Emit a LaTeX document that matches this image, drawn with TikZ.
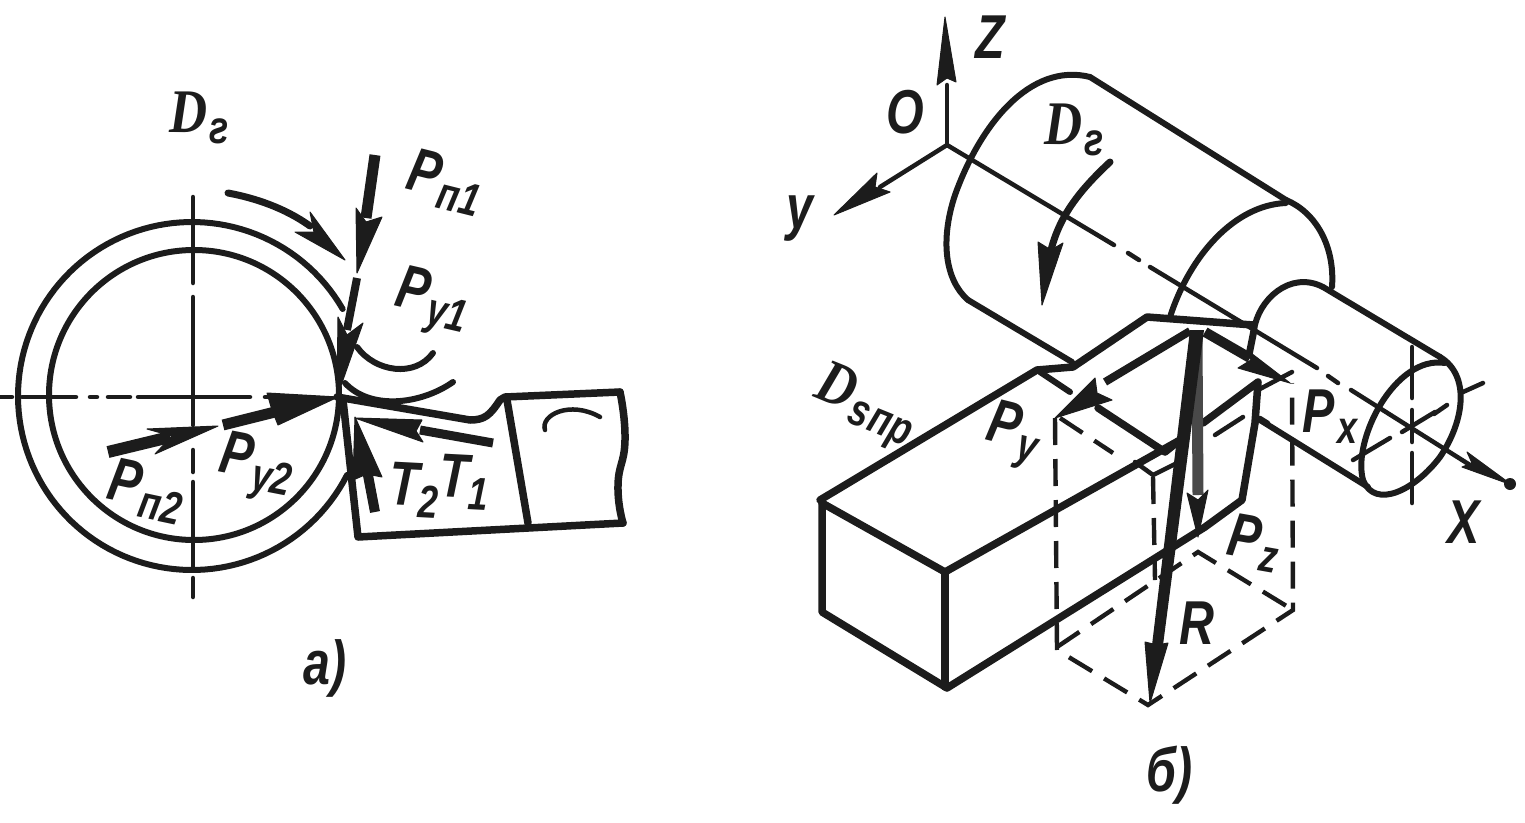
\documentclass[tikz,border=0pt]{standalone}
\usepackage{fontspec}
\setmainfont{Liberation Sans}
\newfontfamily\labf[FakeStretch=0.78]{Liberation Sans}
\newfontfamily\labd[FakeStretch=0.85]{Liberation Serif}
\newcommand{\lsub}[1]{\raisebox{-11pt}{\fontsize{46}{46}\selectfont\labf\bfseries\itshape #1}}
\newcommand{\labP}[1]{{\fontsize{62}{62}\selectfont\labf\bfseries\itshape P}\kern2pt\lsub{#1}}
\newcommand{\labD}[1]{{\fontsize{62}{62}\selectfont\labd\bfseries\itshape D}\kern2pt\lsub{#1}}
\definecolor{ink}{HTML}{1C1C1C}
\tikzset{
  edge/.style={draw=ink,line width=6pt,line cap=round,line join=round},
  heavy/.style={draw=ink,line width=7.5pt,line cap=round,line join=round},
  fine/.style={draw=ink,line width=4.5pt,line cap=round,line join=round},
  boxdash/.style={draw=ink,line width=4.4pt,dash pattern=on 27pt off 14pt},
  shaft/.style={draw=ink,line width=8pt,line cap=butt},
  tip/.style={fill=ink,draw=ink,line width=1pt,line join=round},
  lab/.style={text=ink,inner sep=0pt,font=\fontsize{62}{62}\selectfont\labf\bfseries\itshape}
}
\begin{document}
\begin{tikzpicture}[x=1pt,y=-1pt]
\useasboundingbox (0,0) rectangle (1525,822);
% ---------- figure a ----------
\draw[edge] plot[domain=27:330,samples=120] ({192+174*cos(\x)},{396+174*sin(\x)});
\draw[edge] (194,395) circle[radius=145pt];
% centre lines
\foreach \a/\b in {0/12,22/76,90/97,108/130,138/250,265/300}
  \draw[fine] (\a,397) -- (\b,397);
\foreach \a/\b in {197/283,297/425,450/472,482/570,578/597}
  \draw[fine] (193,\a) -- (193,\b);
% rotation arrow
\draw[edge,line width=7pt] (228,193) .. controls (255,198) and (285,208) .. (310,226);
\fill[tip] (345,260) -- (310,212) -- (314,232) -- (295,232) -- cycle;
% P_n1, P_y1
\draw[shaft,line width=11pt] (375,155) -- (366,218);
\fill[tip] (357,273) -- (356,208) -- (366,222) -- (382,217) -- cycle;
\draw[shaft,line width=8pt] (357,278) -- (347,330);
\fill[tip] (337,397) -- (338,317) -- (347,335) -- (363,323) -- cycle;
% P_n2, P_y2
\draw[shaft,line width=12pt] (108,452) -- (170,437);
\fill[tip] (218,426) -- (147,429) -- (172,436) -- (155,454) -- cycle;
\draw[shaft,line width=11pt] (223,425) -- (275,412);
\fill[tip] (338,397) -- (267,393) -- (272,410) -- (278,425) -- cycle;
% tool
\draw[heavy] (343,400) -- (358,537) -- (623,523);
\draw[heavy] plot[smooth,tension=0.9] coordinates {(623,523) (618,485) (625,440) (620,392)};
\draw[heavy] (620,392) -- (505,397) -- (500,400) .. controls (490,415) and (485,420) .. (470,420) -- (337,397);
\draw[heavy] (507,400) -- (528,523);
\draw[fine] (545,430) .. controls (540,415) and (570,400) .. (600,417);
% curves at the contact
\draw[edge] (357,347) .. controls (375,372) and (415,378) .. (433,353);
\draw[edge] (345,383) .. controls (370,410) and (420,405) .. (453,382);
% T1, T2
\draw[shaft,line width=9pt] (493,443) -- (420,430);
\fill[tip] (355,418) -- (422,420) -- (416,431) -- (423,442) -- cycle;
\draw[shaft,line width=10pt] (375,512) -- (367,470);
\fill[tip] (355,417) -- (353,480) -- (367,474) -- (382,477) -- cycle;
% labels a
\node[lab,rotate=-14] (pn1) at (445,182) {\labP{п1}};
\node[lab,rotate=-13] (py1) at (432,303) {\labP{y1}};
\node[lab,rotate=-12] (pn2) at (146,491) {\labP{п2}};
\node[lab,rotate=-11] (py2) at (256,468) {\labP{y2}};
\node[lab,rotate=-3] (t2) at (414,490) {T\lsub{2}};
\node[lab,rotate=-3] (t1) at (464,482) {T\lsub{1}};
\node[lab] (dg1) at (199,118) {\labD{г}};
\node[lab] (capa) at (325,668) {а)};
% ---------- figure b ----------
% large cylinder
\draw[edge] (1090,77) .. controls (1030,62) and (980,125) .. (955,195) .. controls (940,240) and (945,280) .. (968,300);
\draw[edge] (968,300) -- (1072,362);
\draw[edge] (1090,77) -- (1286,200);
\draw[edge] (1286,200) .. controls (1315,212) and (1335,245) .. (1332,287);
\draw[edge] (1286,203) .. controls (1235,205) and (1190,255) .. (1170,317);
% rotation arrow
\draw[edge,line width=7pt] (1110,162) .. controls (1080,190) and (1060,215) .. (1051,250);
\fill[tip] (1042,305) -- (1038,242) -- (1051,250) -- (1063,243) -- cycle;
% small cylinder
\draw[edge] (1323,287) .. controls (1290,270) and (1258,300) .. (1254,330);
\draw[edge,line width=7pt] (1254,330) -- (1249,355);
\draw[edge] (1323,287) -- (1440,357);
\draw[edge] (1260,420) -- (1368,487);
\draw[edge] (1440,357) .. controls (1470,375) and (1465,420) .. (1440,457) .. controls (1415,490) and (1375,510) .. (1363,480) .. controls (1352,440) and (1395,355) .. (1445,363);
% axes
\coordinate (orig) at (947,145);
\draw[fine] (947,145) -- (1114,245);
\draw[fine] (1128,253) -- (1139,260);
\draw[fine] (1150,267) -- (1317,368);
\draw[fine] (1328,376) -- (1338,383);
\draw[fine] (1351,390) -- (1470,465);
\fill[tip] (1512,485) -- (1467,452) -- (1472,463) -- (1462,467) -- cycle;
\fill[ink] (1510,484) circle[radius=6pt];
\draw[fine] (orig) -- (947,85);
\fill[tip] (945,17) -- (937,85) -- (947,78) -- (956,82) -- cycle;
\draw[fine] (orig) -- (880,187);
\fill[tip] (834,215) -- (877,173) -- (875,187) -- (890,192) -- cycle;
% axis centre lines of the end face
\foreach \a/\b in {347/398,410/442,453/503}
  \draw[fine] (1412,\a) -- (1412,\b);
\foreach \a/\b/\c/\d in {1483/383/1463/392,1447/405/1434/414,1435/412/1402/432,1390/438/1353/460}
  \draw[fine] (\a,\b) -- (\c,\d);
% tool body
\draw[heavy] (820,500) -- (1037,370) -- (1073,367) -- (1147,317) -- (1253,325);
\draw[edge] (1040,372) -- (1070,392);
\draw[heavy] (822,503) -- (945,572);
\draw[heavy] (945,572) -- (1180,440);
\draw[heavy] (822,503) -- (822,612) -- (947,688) -- (1205,527) -- (1242,500) -- (1255,423) -- (1258,382) -- (1203,423);
\draw[heavy] (945,572) -- (945,687);
\draw[heavy] (1098,408) -- (1165,452) -- (1180,440);
\draw[fine] (1135,462) -- (1153,475) -- (1177,463);
\draw[fine] (1258,390) -- (1292,372);
\draw[fine] (1260,418) -- (1268,423);
% dashed box
\draw[boxdash] (1055,418) -- (1057,650) -- (1148,705) -- (1293,610) -- (1292,383);
\draw[boxdash] (1057,647) -- (1198,552) -- (1293,610);
\draw[boxdash] (1060,418) -- (1113,453);
\draw[boxdash] (1153,477) -- (1155,580);
\draw[fine] (1215,435) -- (1243,417);
% forces
\draw[shaft,line width=8pt] (1190,331) -- (1105,382);
\fill[tip] (1055,418) -- (1095,378) -- (1097,393) -- (1112,400) -- cycle;
\draw[shaft,line width=10pt] (1205,332) -- (1250,358);
\fill[tip] (1290,383) -- (1247,350) -- (1251,360) -- (1238,368) -- cycle;
\draw[draw=ink!80,line width=11pt] (1197,340) -- (1198,495);
\fill[tip] (1198,537) -- (1187,493) -- (1198,500) -- (1208,490) -- cycle;
\fill[ink] (1190,330) -- (1204,330) -- (1163,645) -- (1152,645) -- cycle;
\fill[tip] (1150,703) -- (1145,642) -- (1157,645) -- (1168,643) -- cycle;
% labels b
\node[lab] (lz) at (990,37) {Z};
\node[lab] (lo) at (905,112) {O};
\node[lab] (ly) at (800,219) {y};
\node[lab] (lx) at (1464,522) {X};
\node[lab] (px) at (1330,417) {\labP{x}};
\node[lab,rotate=-14] (py) at (1013,435) {\labP{y}};
\node[lab,rotate=-10] (pz) at (1254,543) {\labP{z}};
\node[lab] (lr) at (1197,623) {R};
\node[lab] (dg2) at (1074,130) {\labD{г}};
\node[lab,rotate=-22] (ds) at (865,407) {\labD{s\kern2pt пр}};
\node[lab] (capb) at (1170,775) {б)};
\end{tikzpicture}
\end{document}
